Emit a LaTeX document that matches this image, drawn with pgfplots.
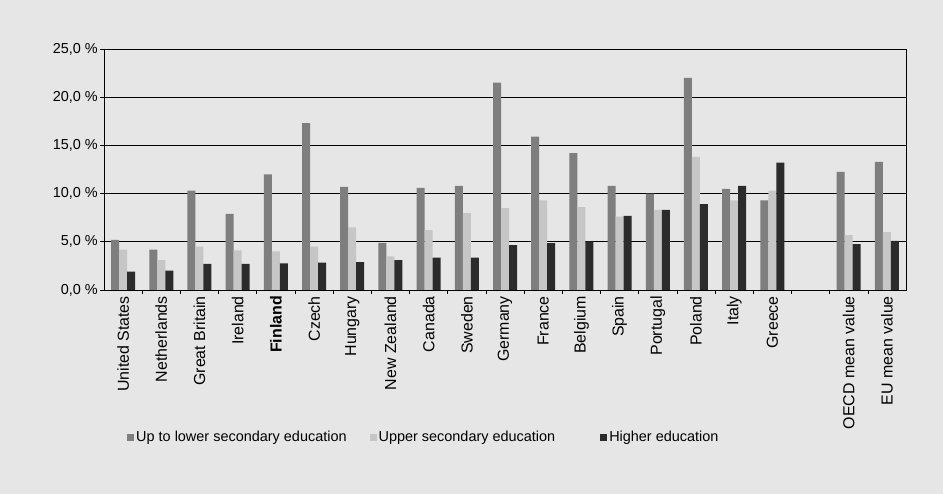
\documentclass[border=0pt]{standalone}
\usepackage{pgfplots}
\pgfplotsset{compat=1.18}
\usepackage{fontspec}
\setmainfont{Liberation Sans}
\definecolor{bgc}{HTML}{E6E6E6}
\definecolor{lowc}{HTML}{7E7E7E}
\definecolor{upc}{HTML}{C6C6C6}
\definecolor{highc}{HTML}{2B2B2B}
\begin{document}
\begin{tikzpicture}[x=1bp,y=1bp]
\fill[bgc] (0,0) rectangle (943,494);
\begin{axis}[
  at={(104bp,204bp)}, anchor=south west,
  scale only axis, width=802bp, height=241bp,
  ybar=0pt, bar width=8bp,
  xmin=-0.5, xmax=20.5, ymin=0, ymax=25,
  xtick={0,...,20},
  xticklabels={United States, Netherlands, Great Britain, Ireland, \textbf{Finland}, Czech, Hungary, New Zealand, Canada, Sweden, Germany, France, Belgium, Spain, Portugal, Poland, Italy, Greece, {}, OECD mean value, EU mean value},
  minor x tick num=1,
  major x tick style={draw=none},
  minor x tick style={draw=black, line width=0.6bp},
  xtick pos=bottom, ytick pos=left,
  ytick={0,5,10,15,20,25},
  yticklabels={{0,0 \%},{5,0 \%},{10,0 \%},{15,0 \%},{20,0 \%},{25,0 \%}},
  major tick length=4bp, minor tick length=4bp,
  tick align=outside,
  ytick style={draw=black, line width=0.6bp},
  x tick label style={rotate=90, anchor=east, font=\fontsize{16}{18}\selectfont, inner sep=2bp},
  y tick label style={font=\fontsize{14.5}{16}\selectfont, inner sep=2bp},
  ymajorgrids, grid style={black, line width=0.8bp},
  axis line style={black, line width=0.8bp},
  legend style={at={(0.025,-0.61)}, anchor=west, draw=none, fill=none, legend columns=3, font=\fontsize{14.5}{16}\selectfont, /tikz/every even column/.append style={column sep=21bp}},
  legend image code/.code={\fill[#1] (0bp,-3.5bp) rectangle (7bp,3.5bp);},
]
\addplot[fill=lowc, draw=none] coordinates {(0,5.2) (1,4.2) (2,10.3) (3,7.9) (4,12.0) (5,17.3) (6,10.7) (7,4.9) (8,10.6) (9,10.8) (10,21.5) (11,15.9) (12,14.2) (13,10.8) (14,10.0) (15,22.0) (16,10.5) (17,9.3) (19,12.25) (20,13.3)};
\addplot[fill=upc, draw=none] coordinates {(0,4.2) (1,3.1) (2,4.5) (3,4.1) (4,4.0) (5,4.5) (6,6.5) (7,3.5) (8,6.2) (9,8.0) (10,8.5) (11,9.3) (12,8.6) (13,7.6) (14,8.3) (15,13.8) (16,9.3) (17,10.3) (19,5.7) (20,6.0)};
\addplot[fill=highc, draw=none] coordinates {(0,1.9) (1,2.0) (2,2.7) (3,2.7) (4,2.75) (5,2.85) (6,2.9) (7,3.1) (8,3.35) (9,3.35) (10,4.65) (11,4.85) (12,5.05) (13,7.7) (14,8.3) (15,8.9) (16,10.8) (17,13.2) (19,4.75) (20,5.1)};
\legend{Up to lower secondary education, Upper secondary education\rule{22bp}{0pt}, Higher education}
\end{axis}
\end{tikzpicture}
\end{document}
